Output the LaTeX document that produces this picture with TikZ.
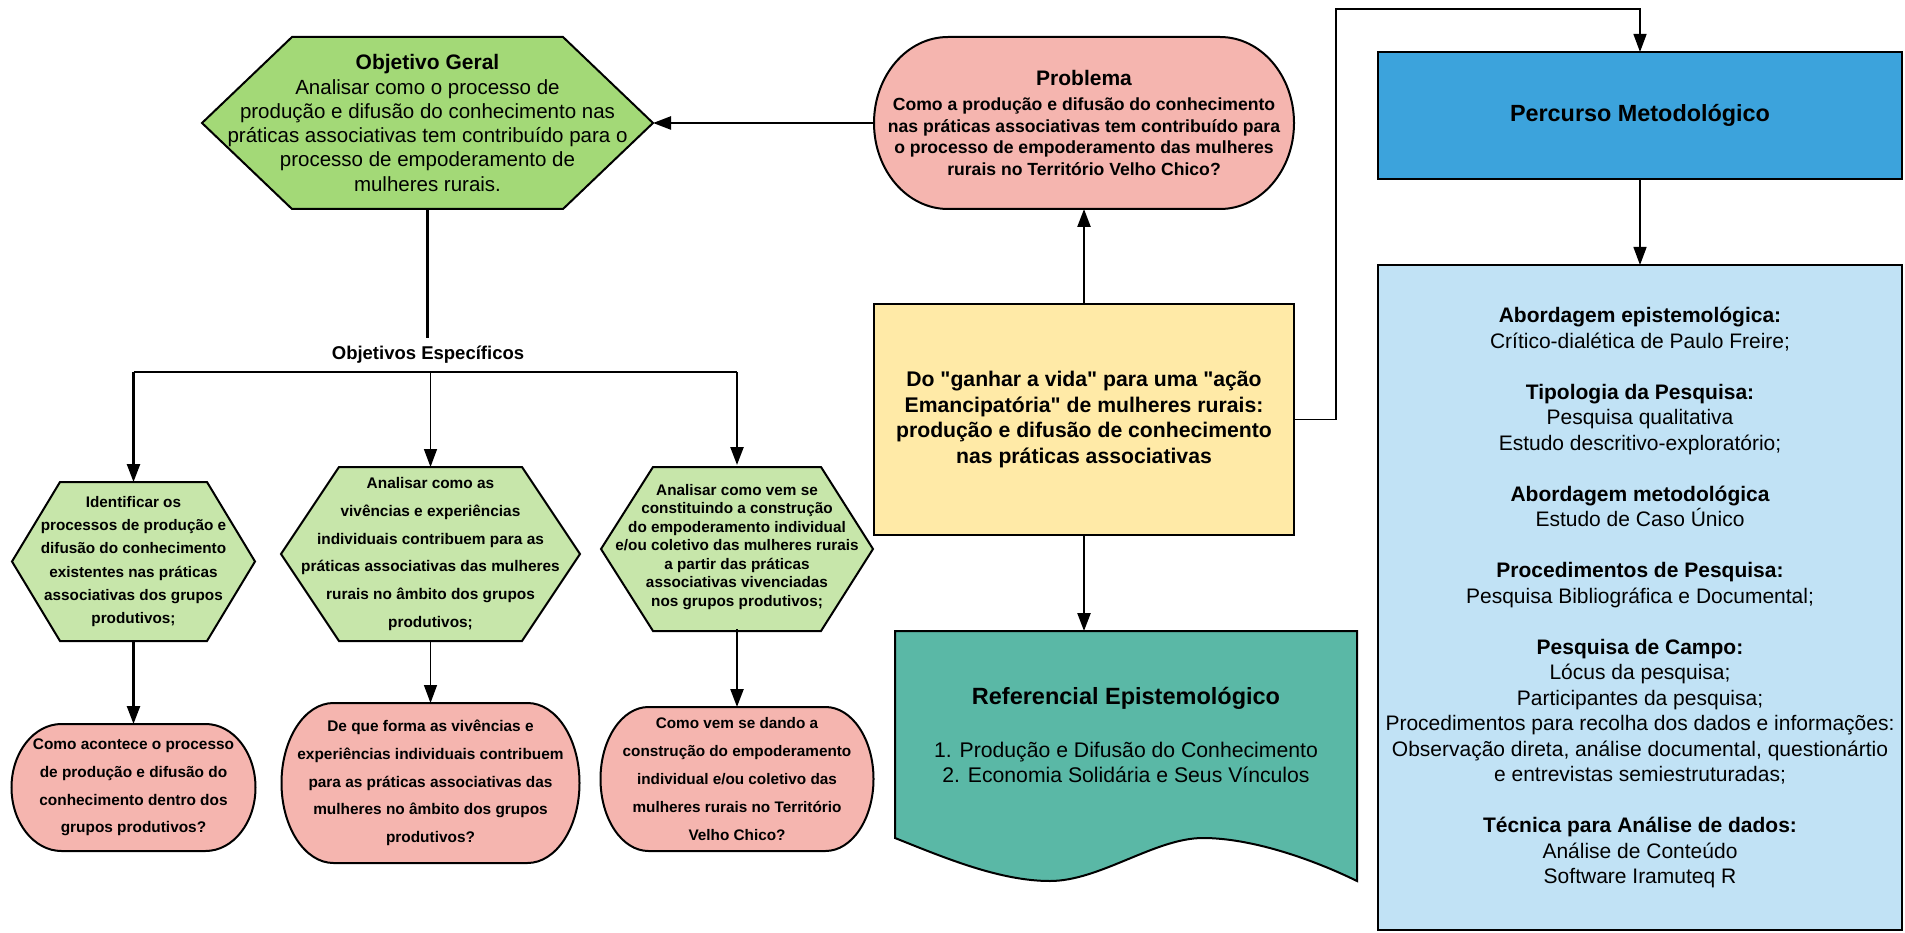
\documentclass[tikz,border=0pt]{standalone}
\usepackage{fontspec}
\setmainfont{Liberation Sans}[Ligatures=TeXOff]
\usetikzlibrary{arrows.meta,calc}

\definecolor{ogGreen}{RGB}{163,217,119}
\definecolor{hexGreen}{RGB}{199,230,170}
\definecolor{pinkFill}{RGB}{245,181,175}
\definecolor{yellowFill}{RGB}{255,234,167}
\definecolor{tealFill}{RGB}{90,184,166}
\definecolor{blueDark}{RGB}{60,163,220}
\definecolor{blueLight}{RGB}{193,226,245}

\tikzset{
  shapeline/.style={draw=black, line width=2pt, line join=miter},
  conthick/.style={line width=2.4pt, -{Triangle[length=18pt,width=13pt]}},
  conthin/.style={line width=1.4pt, -{Triangle[length=18pt,width=13pt]}},
  linethick/.style={line width=2.4pt},
  txt/.style={inner sep=0pt, outer sep=0pt, align=center, text=black},
  boxnode/.style={txt, draw=black, line width=2pt},
}

% hexagon: xl, yt, xr, yb, d, fill
\newcommand{\hexshape}[6]{%
  \draw[shapeline, fill=#6] (#1,{(#2+#4)/2}) -- ({#1+#5},#2) -- ({#3-#5},#2)
    -- (#3,{(#2+#4)/2}) -- ({#3-#5},#4) -- ({#1+#5},#4) -- cycle;
}
% terminator: x1, y1, x2, y2, rx, fill
\newcommand{\termshape}[6]{%
  \pgfmathsetmacro{\tmXa}{#1+#5}%
  \pgfmathsetmacro{\tmXb}{#3-#5}%
  \pgfmathsetmacro{\tmKx}{0.5523*#5}%
  \pgfmathsetmacro{\tmMy}{(#2+#4)/2}%
  \pgfmathsetmacro{\tmKy}{0.5523*(#4-#2)/2}%
  \draw[shapeline, fill=#6] (\tmXa,#2) -- (\tmXb,#2)
    .. controls ({\tmXb+\tmKx},#2) and (#3,{\tmMy-\tmKy}) .. (#3,\tmMy)
    .. controls (#3,{\tmMy+\tmKy}) and ({\tmXb+\tmKx},#4) .. (\tmXb,#4)
    -- (\tmXa,#4)
    .. controls ({\tmXa-\tmKx},#4) and (#1,{\tmMy+\tmKy}) .. (#1,\tmMy)
    .. controls (#1,{\tmMy-\tmKy}) and ({\tmXa-\tmKx},#2) .. cycle;
}

\begin{document}
\begin{tikzpicture}[x=1pt,y=-1pt]
\useasboundingbox (0,0) rectangle (1905,933);
\fill[white] (0,0) rectangle (1905,933);

% ---------- shapes ----------
\hexshape{202}{37}{653}{209}{90}{ogGreen}
\termshape{874}{37}{1294}{209}{74}{pinkFill}
\hexshape{12}{482}{255}{641}{48}{hexGreen}
\hexshape{281}{467}{580}{641}{58}{hexGreen}
\hexshape{601}{467}{873}{631}{52}{hexGreen}
\termshape{11.5}{724}{255.5}{851}{50}{pinkFill}
\termshape{281.5}{703}{579.5}{863}{52}{pinkFill}
\termshape{600.5}{707}{873.5}{851}{48}{pinkFill}
\draw[shapeline, fill=tealFill] (895,631) -- (1357,631) -- (1357,881)
  .. controls (1310,858) and (1250,838) .. (1203,838)
  .. controls (1155,838) and (1100,881) .. (1050,881)
  .. controls (1000,881) and (945,858) .. (895,838) -- cycle;

% ---------- nodes ----------
\node[txt, minimum width=451, minimum height=172,
      font=\fontsize{20.5}{24.3}\selectfont] (og) at (427.5,123)
  {{\fontsize{21}{24.3}\selectfont\bfseries Objetivo Geral}\\
   Analisar como o processo de\\
   produção e difusão do conhecimento nas\\
   práticas associativas tem contribuído para o\\
   processo de empoderamento de\\
   mulheres rurais.};

\node[txt, minimum width=420, minimum height=172,
      font=\fontsize{17.6}{21.5}\selectfont\bfseries] (prob) at (1084,123)
  {{\fontsize{21}{21.5}\selectfont Problema}\\[3.5pt]
   Como a produção e difusão do conhecimento\\
   nas práticas associativas tem contribuído para\\
   o processo de empoderamento das mulheres\\
   rurais no Território Velho Chico?};

\node[boxnode, fill=yellowFill, minimum width=420, minimum height=231,
      font=\fontsize{21.2}{25.5}\selectfont\bfseries] (yellow) at (1084,419.5)
  {Do "ganhar a vida" para uma "ação\\
   Emancipatória" de mulheres rurais:\\
   produção e difusão de conhecimento\\
   nas práticas associativas};

\node[txt, font=\fontsize{18.5}{22}\selectfont\bfseries] (oe) at (428,355)
  {Objetivos Específicos};

\node[txt, minimum width=243, minimum height=159,
      font=\fontsize{15.3}{23.3}\selectfont\bfseries] (hex1) at (133.5,561.5)
  {Identificar os\\ processos de produção e\\ difusão do conhecimento\\
   existentes nas práticas\\ associativas dos grupos\\ produtivos;};

\node[txt, minimum width=299, minimum height=174,
      font=\fontsize{15.4}{27.8}\selectfont\bfseries] (hex2) at (430.5,554)
  {Analisar como as\\ vivências e experiências\\ individuais contribuem para as\\
   práticas associativas das mulheres\\ rurais no âmbito dos grupos\\ produtivos;};

\node[txt, minimum width=272, minimum height=164,
      font=\fontsize{15.3}{18.5}\selectfont\bfseries] (hex3) at (737,547)
  {Analisar como vem se\\ constituindo a construção\\ do empoderamento individual\\
   e/ou coletivo das mulheres rurais\\ a partir das práticas\\
   associativas vivenciadas\\ nos grupos produtivos;};

\node[txt, minimum width=244, minimum height=127,
      font=\fontsize{15.4}{27.8}\selectfont\bfseries] (pink1) at (133.5,787.5)
  {Como acontece o processo\\ de produção e difusão do\\ conhecimento dentro dos\\
   grupos produtivos?};

\node[txt, minimum width=298, minimum height=160,
      font=\fontsize{15.4}{27.8}\selectfont\bfseries] (pink2) at (430.5,783)
  {De que forma as vivências e\\ experiências individuais contribuem\\
   para as práticas associativas das\\ mulheres no âmbito dos grupos\\ produtivos?};

\node[txt, minimum width=273, minimum height=144,
      font=\fontsize{15.3}{27.8}\selectfont\bfseries] (pink3) at (737,779)
  {Como vem se dando a\\ construção do empoderamento\\ individual e/ou coletivo das\\
   mulheres rurais no Território\\ Velho Chico?};

\node[txt, minimum width=462, minimum height=207,
      font=\fontsize{21.2}{25}\selectfont] (ref) at (1126,734.5)
  {{\fontsize{23.5}{25}\selectfont\bfseries Referencial Epistemológico}\\[28pt]
   1. Produção e Difusão do Conhecimento\\
   2. Economia Solidária e Seus Vínculos};

\node[boxnode, fill=blueDark, minimum width=524, minimum height=127,
      font=\fontsize{23.4}{28}\selectfont\bfseries] (percurso) at (1640,115.5)
  {Percurso Metodológico};

\node[boxnode, fill=blueLight, minimum width=524, minimum height=665,
      font=\fontsize{21}{25.5}\selectfont] (metodo) at (1640,597.5)
  {{\bfseries Abordagem epistemológica:}\\
   Crítico-dialética de Paulo Freire;\\[25.5pt]
   {\bfseries Tipologia da Pesquisa:}\\
   Pesquisa qualitativa\\
   Estudo descritivo-exploratório;\\[25.5pt]
   {\bfseries Abordagem metodológica}\\
   Estudo de Caso Único\\[25.5pt]
   {\bfseries Procedimentos de Pesquisa:}\\
   Pesquisa Bibliográfica e Documental;\\[25.5pt]
   {\bfseries Pesquisa de Campo:}\\
   Lócus da pesquisa;\\
   Participantes da pesquisa;\\
   Procedimentos para recolha dos dados e informações:\\
   Observação direta, análise documental, questionártio\\
   e entrevistas semiestruturadas;\\[25.5pt]
   {\bfseries Técnica para Análise de dados:}\\
   Análise de Conteúdo\\
   Software Iramuteq R};

% ---------- coordinates ----------
\coordinate (oetop) at (427.5,338);
\coordinate (bl) at (133.5,372);
\coordinate (bm) at (430.5,372);
\coordinate (br) at (737,372);
\coordinate (ctop) at (1336,9);

% ---------- connectors ----------
\draw[conthick] (prob.west) -- (og.east);
\draw[conthick] (yellow.north) -- (prob.south);
\draw[conthick] (yellow.south) -- (yellow.south |- ref.north);
\draw[conthin] (yellow.east) -| (ctop) -| (percurso.north);
\draw[conthin] (percurso.south) -- (metodo.north);

\draw[linethick] (og.south) -- (oetop);
\draw[linethick] (bl) -- (br);
\draw[conthick] (bl) -- (hex1.north);
\draw[conthin] (bm) -- (hex2.north);
\draw[conthick] (br) -- (hex3.north);
\draw[conthick] (hex1.south) -- (pink1.north);
\draw[conthin] (hex2.south) -- (pink2.north);
\draw[conthick] (hex3.south) -- (pink3.north);
\end{tikzpicture}
\end{document}
